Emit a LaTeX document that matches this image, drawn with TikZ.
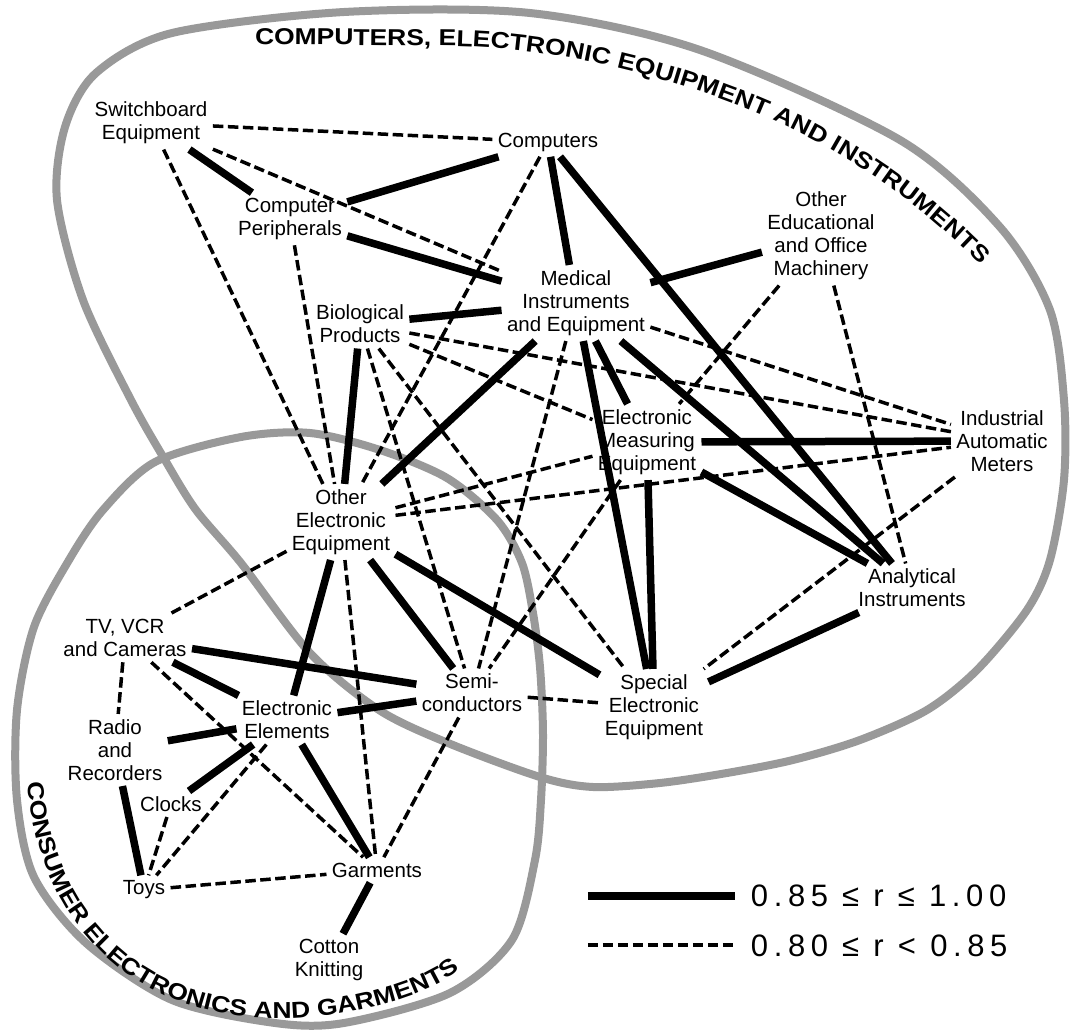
\documentclass[tikz,border=0pt]{standalone}
\usepackage{fontspec}
\usetikzlibrary{decorations.text}
\newfontfamily\lblfont{Liberation Sans}
\newfontfamily\grpfont{Liberation Sans}[FakeStretch=1.15]
\newfontfamily\legfont{Liberation Sans}[LetterSpace=18]

\begin{document}
\begin{tikzpicture}[x=0.2pt,y=-0.2pt,
  etiq/.style={font=\lblfont\fontsize{4.1}{4.6}\selectfont,align=center,inner sep=0.9pt},
  fuerte/.style={line width=1.5pt},
  debil/.style={line width=0.7pt,dash pattern=on 2.1pt off 0.9pt},
  grupo/.style={draw=black!40,line width=1.6pt},
  leyenda/.style={font=\legfont\fontsize{6.2}{7.4}\selectfont,anchor=west,inner sep=0pt},
  titulo/.style={decorate,decoration={text along path,
    text={|\grpfont\bfseries\fontsize{4.6}{4.6}\selectfont|#1}}}
  ]

  \fill[white] (0,0) rectangle (1072,1030);

  \draw[grupo] plot[smooth cycle] coordinates {(65,127) (96,73) (172,33) (344,12)
    (530,13) (700,50) (900,140) (1000,227) (1050,310) (1064,400) (1064,480)
    (1050,560) (1027,610) (977,670) (927,710) (860,740) (793,760) (727,773)
    (660,783) (593,787) (540,777) (448,743) (379,710) (310,653) (241,563)
    (196,510) (165,460) (131,400) (83,300) (57,200)};
  \draw[grupo] plot[smooth cycle] coordinates {(103,510) (155,462) (241,437)
    (310,433) (380,450) (447,478) (497,520) (522,563) (533,613) (540,667)
    (543,733) (541,800) (535,860) (512,940) (450,993) (344,1023) (275,1023)
    (172,1000) (86,943) (34,877) (17,800) (17,710) (34,627) (69,560)};

  \path[titulo={COMPUTERS, ELECTRONIC EQUIPMENT AND INSTRUMENTS}]
    (255,44) -- (450,46) .. controls (560,47) and (690,80) .. (790,128)
    .. controls (880,171) and (968,240) .. (1025,318) -- (1043,360);
  \path[titulo={CONSUMER ELECTRONICS AND GARMENTS}]
    (28,782) .. controls (35,900) and (110,1005) .. (250,1017)
    .. controls (320,1025) and (437,1002) .. (474,956) -- (502,920);

  \node[etiq] (sw) at (151,123) {Switchboard\\Equipment};
  \node[etiq] (comp) at (548,142) {Computers};
  \node[etiq] (per) at (290,219) {Computer\\Peripherals};
  \node[etiq] (oeo) at (821,236) {Other\\Educational\\and Office\\Machinery};
  \node[etiq] (med) at (576,303) {Medical\\Instruments\\and Equipment};
  \node[etiq] (bio) at (360,324) {Biological\\Products};
  \node[etiq] (ems) at (647,442) {Electronic\\Measuring\\Equipment};
  \node[etiq] (iam) at (1002,441) {Industrial\\Automatic\\Meters};
  \node[etiq] (oee) at (341,522) {Other\\Electronic\\Equipment};
  \node[etiq] (ana) at (912,588) {Analytical\\Instruments};
  \node[etiq] (tv) at (125,638) {TV, VCR\\and Cameras};
  \node[etiq] (semi) at (472,693) {Semi-\\conductors};
  \node[etiq] (sep) at (654,707) {Special\\Electronic\\Equipment};
  \node[etiq] (ele) at (287,720) {Electronic\\Elements};
  \node[etiq] (rad) at (115,750) {Radio\\and\\Recorders};
  \node[etiq] (clk) at (171,804) {Clocks};
  \node[etiq] (toys) at (144,890) {Toys};
  \node[etiq] (gar) at (377,870) {Garments};
  \node[etiq] (cot) at (329,960) {Cotton\\Knitting};

  \draw[fuerte] (sw) -- (per);
  \draw[fuerte] (comp) -- (per);
  \draw[fuerte] (comp) -- (med);
  \draw[fuerte] (comp) -- (ana);
  \draw[fuerte] (per) -- (med);
  \draw[fuerte] (oeo) -- (med);
  \draw[fuerte] (med) -- (bio);
  \draw[fuerte] (med) -- (oee);
  \draw[fuerte] (med) -- (sep);
  \draw[fuerte] (med) -- (ems);
  \draw[fuerte] (med) -- (ana);
  \draw[fuerte] (bio) -- (oee);
  \draw[fuerte] (oee) -- (ele);
  \draw[fuerte] (oee) -- (semi);
  \draw[fuerte] (oee) -- (sep);
  \draw[fuerte] (ems) -- (iam);
  \draw[fuerte] (ems) -- (ana);
  \draw[fuerte] (ems) -- (sep);
  \draw[fuerte] (ana) -- (sep);
  \draw[fuerte] (tv) -- (semi);
  \draw[fuerte] (tv) -- (ele);
  \draw[fuerte] (ele) -- (rad);
  \draw[fuerte] (ele) -- (semi);
  \draw[fuerte] (ele) -- (clk);
  \draw[fuerte] (ele) -- (gar);
  \draw[fuerte] (rad) -- (toys);
  \draw[fuerte] (gar) -- (cot);

  \draw[debil] (sw) -- (comp);
  \draw[debil] (sw) -- (med);
  \draw[debil] (sw) -- (oee);
  \draw[debil] (comp) -- (oee);
  \draw[debil] (per) -- (oee);
  \draw[debil] (oeo) -- (ems);
  \draw[debil] (oeo) -- (ana);
  \draw[debil] (med) -- (iam);
  \draw[debil] (med) -- (semi);
  \draw[debil] (bio) -- (iam);
  \draw[debil] (bio) -- (ems);
  \draw[debil] (bio) -- (semi);
  \draw[debil] (bio) -- (sep);
  \draw[debil] (oee) -- (tv);
  \draw[debil] (oee) -- (gar);
  \draw[debil] (oee) -- (ems);
  \draw[debil] (oee) -- (iam);
  \draw[debil] (iam) -- (sep);
  \draw[debil] (ems) -- (semi);
  \draw[debil] (semi) -- (sep);
  \draw[debil] (semi) -- (gar);
  \draw[debil] (tv) -- (rad);
  \draw[debil] (tv) -- (gar);
  \draw[debil] (ele) -- (toys);
  \draw[debil] (clk) -- (toys);
  \draw[debil] (toys) -- (gar);

  \coordinate (m1) at (588,896);
  \coordinate (m2) at (588,945);
  \draw[fuerte] (m1) -- ++(147,0);
  \draw[debil] (m2) -- ++(147,0);
  \node[leyenda] (l1) at (750,896) {0.85 ≤ r ≤ 1.00};
  \node[leyenda] (l2) at (750,946) {0.80 ≤ r < 0.85};

\end{tikzpicture}
\end{document}
